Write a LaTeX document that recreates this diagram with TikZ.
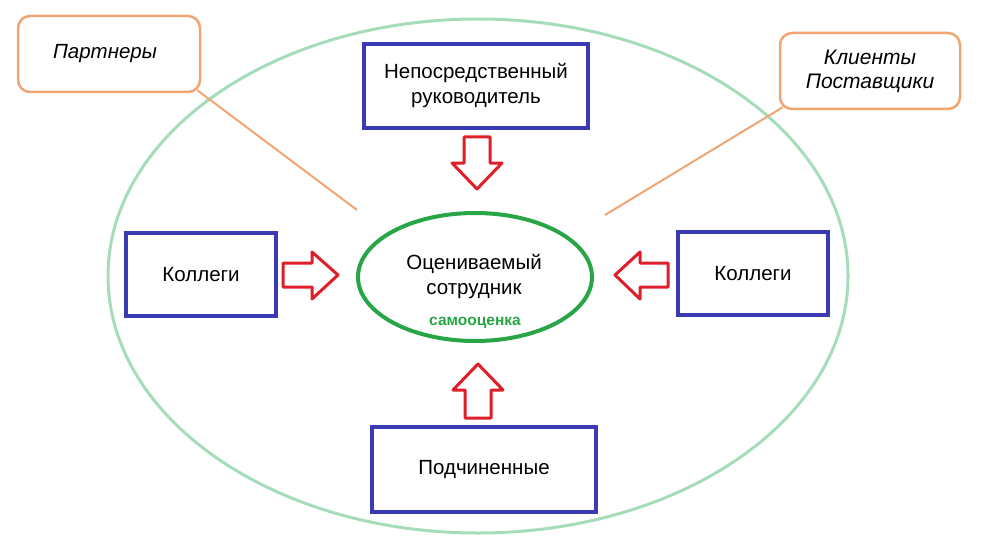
\documentclass[tikz,border=0pt]{standalone}
\usepackage{fontspec}
\setmainfont{Liberation Sans}
\usetikzlibrary{shapes.geometric}
\definecolor{bbox}{RGB}{58,58,178}
\definecolor{rarr}{RGB}{222,30,40}
\definecolor{gell}{RGB}{40,165,70}
\definecolor{lgell}{RGB}{165,220,185}
\definecolor{orng}{RGB}{240,165,115}
\tikzset{
  bluebox/.style={draw=bbox,line width=3.5pt,minimum width=#1,align=center,font=\fontsize{20.5}{25}\selectfont},
  callout/.style={draw=orng,line width=2.5pt,rounded corners=12pt,align=center,font=\itshape\fontsize{#1}{24}\selectfont},
  fatarrow/.style={draw=rarr,line width=3pt,line join=round,fill=white}
}
\begin{document}
\begin{tikzpicture}[x=1pt,y=-1pt]
\useasboundingbox (0,0) rectangle (982,559);
% big ellipse
\draw[lgell,line width=3pt] (478,276) ellipse [x radius=370,y radius=257];
% callouts
\node[callout=20.5,minimum width=182pt,minimum height=76pt] (part) at (109,54) {\hspace*{-8pt}Партнеры};
\node[callout=21,minimum width=180pt,minimum height=76pt] (kli) at (870,71) {Клиенты\\ Поставщики};
\coordinate (pe) at (357,210);
\coordinate (ke) at (605,215);
\draw[orng,line width=2pt] (part.south east) ++(-4,-3) -- (pe);
\draw[orng,line width=2pt] (kli.south west) ++(4,-3) -- (ke);
% boxes
\node[bluebox=224pt,minimum height=84pt] (ruk) at (476,86) {Непосредственный\\ руководитель};
\node[bluebox=150pt,minimum height=83pt] (kl) at (201,274.5) {Коллеги};
\node[bluebox=150pt,minimum height=83pt] (kr) at (753,273.5) {Коллеги};
\node[bluebox=224pt,minimum height=85pt] (pod) at (484,469.5) {Подчиненные};
% center ellipse
\node[draw=gell,line width=4pt,ellipse,minimum width=234pt,minimum height=128pt] (emp) at (475,277) {};
\node[align=center,font=\fontsize{20.5}{25}\selectfont] (empt) at (474,277) {Оцениваемый\\ сотрудник};
\node[text=gell,font=\bfseries\fontsize{15.5}{18}\selectfont] (self) at (475,323) {самооценка};
% arrows
% left -> right
\draw[fatarrow] (283,263) -- (312,263) -- (312,252) -- (338,275) -- (312,299) -- (312,287) -- (283,287) -- cycle;
% right -> left
\draw[fatarrow] (668,263) -- (640,263) -- (640,252) -- (615,275) -- (640,299) -- (640,287) -- (668,287) -- cycle;
% down
\draw[fatarrow] (464,137) -- (490,137) -- (490,163) -- (502,163) -- (477,189) -- (452,163) -- (464,163) -- cycle;
% up
\draw[fatarrow] (465,418) -- (491,418) -- (491,390) -- (503,390) -- (478,364) -- (453,390) -- (465,390) -- cycle;
\end{tikzpicture}
\end{document}
